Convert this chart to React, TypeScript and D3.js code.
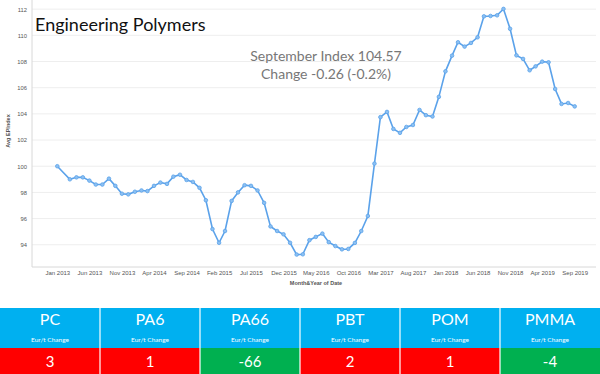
import React, { useEffect, useRef } from 'react';
import * as d3 from 'd3';

// monthly index (Feb 2013 has no point in the source)
const months = [
  '2013-01', '2013-03', '2013-04', '2013-05', '2013-06', '2013-07', '2013-08', '2013-09', '2013-10', '2013-11', '2013-12',
  '2014-01', '2014-02', '2014-03', '2014-04', '2014-05', '2014-06', '2014-07', '2014-08', '2014-09', '2014-10', '2014-11', '2014-12',
  '2015-01', '2015-02', '2015-03', '2015-04', '2015-05', '2015-06', '2015-07', '2015-08', '2015-09', '2015-10', '2015-11', '2015-12',
  '2016-01', '2016-02', '2016-03', '2016-04', '2016-05', '2016-06', '2016-07', '2016-08', '2016-09', '2016-10', '2016-11', '2016-12',
  '2017-01', '2017-02', '2017-03', '2017-04', '2017-05', '2017-06', '2017-07', '2017-08', '2017-09', '2017-10', '2017-11', '2017-12',
  '2018-01', '2018-02', '2018-03', '2018-04', '2018-05', '2018-06', '2018-07', '2018-08', '2018-09', '2018-10', '2018-11', '2018-12',
  '2019-01', '2019-02', '2019-03', '2019-04', '2019-05', '2019-06', '2019-07', '2019-08', '2019-09'
];
const epIndex = [
  100.0, 99.0, 99.15, 99.15, 98.9, 98.6, 98.6, 99.05, 98.5, 97.9, 97.85,
  98.05, 98.15, 98.1, 98.5, 98.75, 98.65, 99.2, 99.35, 98.95, 98.8, 98.35, 97.4,
  95.2, 94.15, 95.05, 97.35, 98.0, 98.55, 98.5, 98.15, 97.2, 95.4, 95.05, 94.8,
  94.15, 93.25, 93.27, 94.35, 94.6, 94.85, 94.2, 93.9, 93.65, 93.68, 94.14, 95.05,
  96.2, 100.2, 103.75, 104.15, 102.85, 102.55, 103.0, 103.15, 104.3, 103.9, 103.8, 105.3,
  107.25, 108.45, 109.47, 109.14, 109.42, 109.85, 111.45, 111.48, 111.53, 112.02, 110.5, 108.47,
  108.2, 107.33, 107.63, 107.99, 107.94, 105.9, 104.76, 104.83, 104.57
];
const xTicks = ['2013-01', '2013-06', '2013-11', '2014-04', '2014-09', '2015-02', '2015-07', '2015-12', '2016-05',
  '2016-10', '2017-03', '2017-08', '2018-01', '2018-06', '2018-11', '2019-04', '2019-09'];
const yTicks = [94, 96, 98, 100, 102, 104, 106, 108, 110, 112];

const products = ['PC', 'PA6', 'PA66', 'PBT', 'POM', 'PMMA'];
const changes = [3, 1, -66, 2, 1, -4];

const W = 600, H = 374;
const parse = d3.utcParse('%Y-%m');

export default function App() {
  const ref = useRef<SVGSVGElement>(null);

  useEffect(() => {
    const svg = d3.select(ref.current);
    svg.selectAll('*').remove();

    const left = 32, right = 596, top = 0, bottom = 267;

    const x = d3.scaleUtc()
      .domain([parse('2013-01'), parse('2019-09')])
      .range([57.3, 574.7]);
    const y = d3.scaleLinear()
      .domain([92.3, 112.7])
      .range([bottom, top]);

    // gridlines
    svg.append('g').selectAll('line')
      .data(yTicks)
      .enter().append('line')
      .attr('x1', left).attr('x2', right)
      .attr('y1', d => y(d)).attr('y2', d => y(d))
      .attr('stroke', '#eeeeee').attr('stroke-width', 1);

    // frame
    svg.append('line').attr('x1', left).attr('x2', left).attr('y1', top).attr('y2', bottom)
      .attr('stroke', '#d8d8d8');
    svg.append('line').attr('x1', left).attr('x2', right).attr('y1', bottom).attr('y2', bottom)
      .attr('stroke', '#d8d8d8');

    // y axis
    const yAxis = svg.append('g')
      .attr('transform', 'translate(' + left + ',0)')
      .call(d3.axisLeft(y).tickValues(yTicks).tickSize(0).tickPadding(5));
    yAxis.select('.domain').remove();
    yAxis.selectAll('text')
      .attr('font-family', 'Liberation Sans, Arial, sans-serif')
      .attr('font-size', 5.8).attr('fill', '#555');

    svg.append('text')
      .attr('transform', 'translate(10,' + 131 + ') rotate(-90)')
      .attr('text-anchor', 'middle')
      .attr('font-family', 'Liberation Sans, Arial, sans-serif')
      .attr('font-size', 5.5).attr('font-weight', 'bold').attr('fill', '#555')
      .text('Avg EPIndex');

    // x axis
    const xAxis = svg.append('g')
      .attr('transform', 'translate(0,' + bottom + ')')
      .call(d3.axisBottom(x).tickValues(xTicks.map(parse)).tickFormat(d3.utcFormat('%b %Y')).tickSize(0).tickPadding(4));
    xAxis.select('.domain').remove();
    xAxis.selectAll('text')
      .attr('font-family', 'Liberation Sans, Arial, sans-serif')
      .attr('font-size', 6).attr('fill', '#555');

    svg.append('text')
      .attr('x', 316).attr('y', 285)
      .attr('text-anchor', 'middle')
      .attr('font-family', 'Liberation Sans, Arial, sans-serif')
      .attr('font-size', 5.5).attr('font-weight', 'bold').attr('fill', '#555')
      .text('Month&Year of Date');

    // line + markers
    const data = months.map((m, i) => ({ date: parse(m), value: epIndex[i] }));
    const line = d3.line<any>().x(d => x(d.date)).y(d => y(d.value));
    svg.append('path')
      .datum(data)
      .attr('d', line)
      .attr('fill', 'none')
      .attr('stroke', '#5ba2ea')
      .attr('stroke-width', 1.6);
    svg.append('g').selectAll('circle')
      .data(data)
      .enter().append('circle')
      .attr('cx', d => x(d.date)).attr('cy', d => y(d.value))
      .attr('r', 1.8)
      .attr('fill', '#8cc0f2').attr('stroke', '#5ba2ea').attr('stroke-width', 0.8);

    // title + annotation
    svg.append('text')
      .attr('x', 35).attr('y', 31)
      .attr('font-family', 'Lato, Open Sans, sans-serif')
      .attr('font-size', 18).attr('fill', '#111')
      .text('Engineering Polymers');

    const last = epIndex[epIndex.length - 1], prev = epIndex[epIndex.length - 2];
    const diff = last - prev;
    svg.append('text')
      .attr('x', 326).attr('y', 61)
      .attr('text-anchor', 'middle')
      .attr('font-family', 'Lato, Open Sans, sans-serif')
      .attr('font-size', 14).attr('fill', '#777')
      .text('September Index ' + last.toFixed(2));
    svg.append('text')
      .attr('x', 326).attr('y', 79)
      .attr('text-anchor', 'middle')
      .attr('font-family', 'Lato, Open Sans, sans-serif')
      .attr('font-size', 14).attr('fill', '#777')
      .text('Change ' + diff.toFixed(2) + ' (' + (diff / prev * 100).toFixed(1) + '%)');

    // table of Eur/t changes
    const col = d3.scaleBand().domain(products).range([0, W]);
    const cells = svg.append('g').selectAll('g')
      .data(products)
      .enter().append('g')
      .attr('transform', d => 'translate(' + col(d) + ',0)');

    cells.append('rect')
      .attr('x', 0).attr('y', 308).attr('width', col.bandwidth()).attr('height', 40)
      .attr('fill', '#00b0f0');
    cells.append('rect')
      .attr('x', 0).attr('y', 348).attr('width', col.bandwidth()).attr('height', 26)
      .attr('fill', (d, i) => changes[i] < 0 ? '#00b050' : '#ff0000');
    cells.append('line')
      .attr('x1', 0).attr('x2', 0).attr('y1', 308).attr('y2', H)
      .attr('stroke', '#fff').attr('stroke-width', (d, i) => i === 0 ? 0 : 1.2);

    cells.append('text')
      .attr('x', col.bandwidth() / 2).attr('y', 325)
      .attr('text-anchor', 'middle')
      .attr('font-family', 'Lato, Open Sans, sans-serif')
      .attr('font-size', 16).attr('fill', '#fff')
      .text(d => d);
    cells.append('text')
      .attr('x', col.bandwidth() / 2).attr('y', 341.5)
      .attr('text-anchor', 'middle')
      .attr('font-family', 'Lato, Open Sans, sans-serif')
      .attr('font-size', 6.5).attr('fill', '#fff')
      .text('Eur/t Change');
    cells.append('text')
      .attr('x', col.bandwidth() / 2).attr('y', 366.5)
      .attr('text-anchor', 'middle')
      .attr('font-family', 'Lato, Open Sans, sans-serif')
      .attr('font-size', 15).attr('fill', '#fff')
      .text((d, i) => changes[i]);
  }, []);

  return (
    <svg ref={ref} width={W} height={H}
      style={{ position: 'absolute', left: 0, top: 0, background: '#fff' }} />
  );
}
